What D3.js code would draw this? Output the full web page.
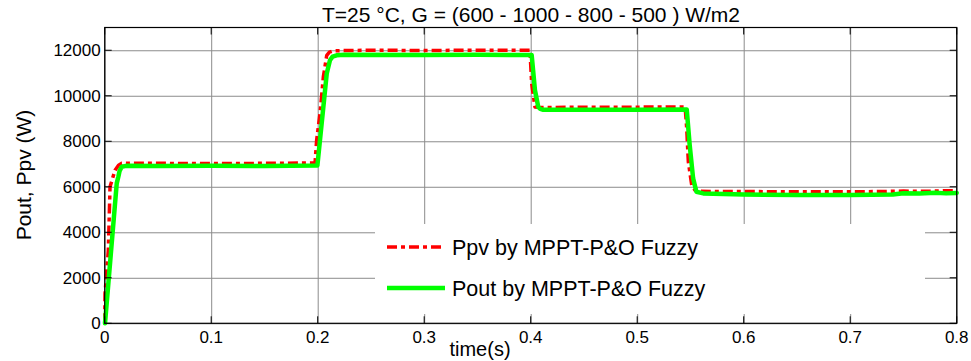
<!DOCTYPE html>
<html>
<head>
<meta charset="utf-8">
<script src="https://cdn.jsdelivr.net/npm/d3@7"></script>
<style>
	body { margin: 0; background: #fff; }
	svg { display: block; }
	text { font-family: "Liberation Sans", Arial, sans-serif; fill: #000; }
</style>
</head>
<body>
<svg id="svg_main" width="971" height="361"></svg>
<script>
// Ppv (red, dash-dot)
var t_ppv = [0, 0.0003, 0.0034, 0.005, 0.0097, 0.013, 0.016, 0.05, 0.1, 0.15, 0.1975,
	0.199, 0.2022, 0.2053, 0.2085, 0.211, 0.2147, 0.25, 0.3, 0.35, 0.3993,
	0.4009, 0.404, 0.4087, 0.45, 0.5, 0.545, 0.5465, 0.548, 0.5512, 0.5543,
	0.56, 0.6, 0.65, 0.7, 0.73, 0.75, 0.77, 0.79, 0.8];
var ppv = [0, 1300, 3200, 6000, 6730, 6950, 7030, 7030, 7020, 7030, 7050,
	8050, 9240, 10830, 11780, 11920, 11980, 12000, 11990, 12000, 12000,
	10540, 9510, 9480, 9500, 9500, 9510, 8560, 7100, 6070, 5850,
	5800, 5790, 5780, 5780, 5790, 5810, 5800, 5830, 5820];

// Pout (green, solid)
var t_pout = [0.0003, 0.0113, 0.0128, 0.014, 0.016, 0.02, 0.05, 0.1, 0.15, 0.1997,
	0.2053, 0.2085, 0.2115, 0.214, 0.2178, 0.225, 0.3, 0.35, 0.4009,
	0.404, 0.4071, 0.409, 0.4118, 0.45, 0.5, 0.5465, 0.5493, 0.5525, 0.5556,
	0.562, 0.6, 0.65, 0.7, 0.74, 0.75, 0.765, 0.78, 0.79, 0.8];
var pout = [0, 6150, 6440, 6700, 6880, 6920, 6910, 6920, 6910, 6930,
	9510, 10975, 11560, 11720, 11780, 11800, 11790, 11800, 11790,
	10240, 9510, 9420, 9380, 9390, 9390, 9400, 7830, 6370, 5780,
	5710, 5660, 5640, 5640, 5660, 5720, 5700, 5740, 5710, 5730];

var x_ticks = [0, 0.1, 0.2, 0.3, 0.4, 0.5, 0.6, 0.7, 0.8];
var y_ticks = [0, 2000, 4000, 6000, 8000, 10000, 12000];

var title_text = "T=25 °C, G = (600 - 1000 - 800 - 500 ) W/m2";
var x_label = "time(s)";
var y_label = "Pout,  Ppv (W)";
var legend_labels = ["Ppv by MPPT-P&O Fuzzy", "Pout by MPPT-P&O Fuzzy"];

var svg = d3.select("#svg_main");

var plot = { left: 104.7, right: 956.7, top: 27.5, bottom: 323.3 };
var width = plot.right - plot.left,
	height = plot.bottom - plot.top;

var x = d3.scaleLinear().domain([0, 0.8]).range([plot.left, plot.right]);
var y = d3.scaleLinear().domain([0, 13000]).range([plot.bottom, plot.top]);

var red_dash = "10,4,4,4";

// grid
svg.append("g")
	.attr("class", "grid")
	.attr("transform", `translate(0, ${plot.bottom})`)
	.call(d3.axisBottom(x).tickValues(x_ticks).tickSize(-height).tickFormat(""));
svg.append("g")
	.attr("class", "grid")
	.attr("transform", `translate(${plot.left}, 0)`)
	.call(d3.axisLeft(y).tickValues(y_ticks).tickSize(-width).tickFormat(""));
svg.selectAll(".grid .domain").remove();
svg.selectAll(".grid line")
	.attr("stroke", "#8c8c8c")
	.attr("stroke-width", 1);

// series
var line = d3.line()
	.x(d => x(d[0]))
	.y(d => y(d[1]));

svg.append("path")
	.datum(t_ppv.map((t, i) => [t, ppv[i]]))
	.attr("fill", "none")
	.attr("stroke", "#ff0000")
	.attr("stroke-width", 3.5)
	.attr("stroke-dasharray", red_dash)
	.attr("stroke-linejoin", "round")
	.attr("d", line);

svg.append("path")
	.datum(t_pout.map((t, i) => [t, pout[i]]))
	.attr("fill", "none")
	.attr("stroke", "#00ff00")
	.attr("stroke-width", 4.5)
	.attr("stroke-linejoin", "round")
	.attr("stroke-linecap", "round")
	.attr("d", line);

// legend
var legend = svg.append("g").attr("class", "legend");
legend.append("rect")
	.attr("x", 375)
	.attr("y", 224)
	.attr("width", 550)
	.attr("height", 90)
	.attr("fill", "#fff");
var leg_rows = [
	{ label: legend_labels[0], color: "#ff0000", w: 3.5, dash: red_dash, y: 247 },
	{ label: legend_labels[1], color: "#00ff00", w: 4.5, dash: null, y: 288 }
];
for (let r of leg_rows) {
	legend.append("line")
		.attr("x1", 387)
		.attr("x2", 445)
		.attr("y1", r.y)
		.attr("y2", r.y)
		.attr("stroke", r.color)
		.attr("stroke-width", r.w)
		.attr("stroke-dasharray", r.dash);
	legend.append("text")
		.attr("x", 452)
		.attr("y", r.y + 8)
		.attr("font-size", "21.5px")
		.text(r.label);
}

// frame and inward ticks
svg.append("rect")
	.attr("x", plot.left)
	.attr("y", plot.top)
	.attr("width", width)
	.attr("height", height)
	.attr("fill", "none")
	.attr("stroke", "#000")
	.attr("stroke-width", 1.2);

var ticks = svg.append("g").attr("class", "ticks");
for (let t of x_ticks) {
	ticks.append("line").attr("x1", x(t)).attr("x2", x(t)).attr("y1", plot.bottom).attr("y2", plot.bottom - 7);
	ticks.append("line").attr("x1", x(t)).attr("x2", x(t)).attr("y1", plot.top).attr("y2", plot.top + 7);
	ticks.append("text")
		.attr("x", x(t))
		.attr("y", plot.bottom + 20)
		.attr("text-anchor", "middle")
		.attr("font-size", "17px")
		.text(t === 0 ? "0" : String(t));
}
for (let v of y_ticks) {
	ticks.append("line").attr("x1", plot.left).attr("x2", plot.left + 7).attr("y1", y(v)).attr("y2", y(v));
	ticks.append("line").attr("x1", plot.right).attr("x2", plot.right - 7).attr("y1", y(v)).attr("y2", y(v));
	ticks.append("text")
		.attr("x", plot.left - 4)
		.attr("y", y(v) + 6)
		.attr("text-anchor", "end")
		.attr("font-size", "17px")
		.text(String(v));
}
ticks.selectAll("line").attr("stroke", "#000").attr("stroke-width", 1);

// labels
svg.append("text")
	.attr("x", 531)
	.attr("y", 22)
	.attr("text-anchor", "middle")
	.attr("font-size", "21px")
	.text(title_text);
svg.append("text")
	.attr("x", 480)
	.attr("y", 356)
	.attr("text-anchor", "middle")
	.attr("font-size", "20px")
	.text(x_label);
svg.append("text")
	.attr("transform", `translate(31, 175) rotate(-90)`)
	.attr("text-anchor", "middle")
	.attr("font-size", "21px")
	.text(y_label);
</script>
</body>
</html>
